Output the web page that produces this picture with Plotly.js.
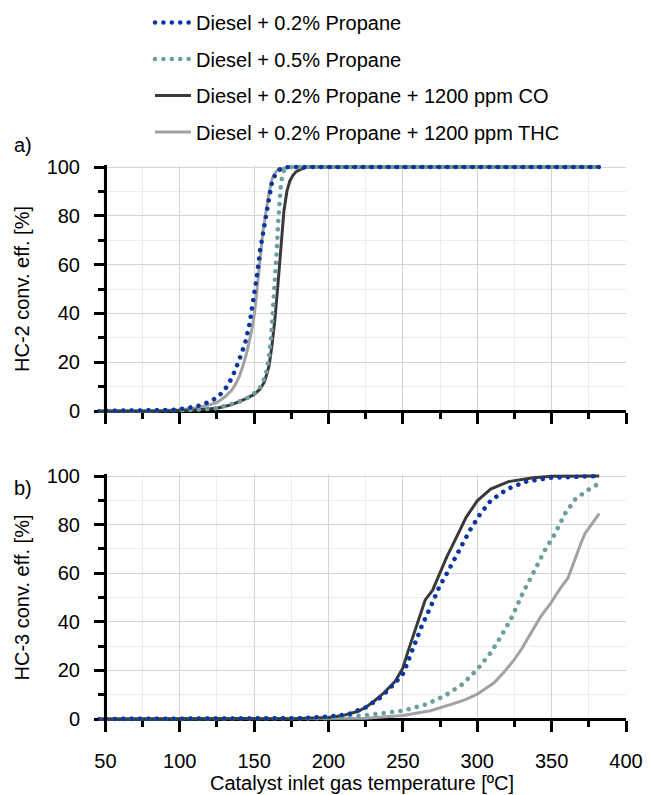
<!DOCTYPE html>
<html>
<head>
<meta charset="utf-8">
<script src="https://cdn.plot.ly/plotly-3.0.1.min.js"></script>
<style>html,body{margin:0;padding:0;background:#fff;}</style>
</head>
<body>
<div id="chart" style="width:651px;height:795px;"></div>
<script>
// Legend / series names
const seriesNames = [
  'Diesel + 0.2% Propane',
  'Diesel + 0.5% Propane',
  'Diesel + 0.2% Propane + 1200 ppm CO',
  'Diesel + 0.2% Propane + 1200 ppm THC'
];

// ---- Panel a) HC-2 conversion efficiency [%] ----
const hc2_p02_x = [45, 60, 80, 95, 105, 113, 120, 125, 130, 135, 140, 144, 147, 150, 152, 154, 156, 158, 160, 162, 164, 166, 168, 170, 175, 200, 250, 300, 350, 382];
const hc2_p02_y = [0, 0, 0.1, 0.4, 1.2, 2.2, 3.8, 5.5, 8.5, 13.5, 21, 28, 36, 47, 56, 66, 73, 82, 89, 94, 96.6, 98.5, 99.3, 99.8, 100, 100, 100, 100, 100, 100];

const hc2_p05_x = [45, 90, 110, 125, 135, 140, 145, 150, 153, 156, 158, 160, 161.5, 163, 164, 165, 166, 167, 168, 169, 170, 172, 175, 200, 300, 382];
const hc2_p05_y = [0, 0, 0.4, 1.1, 2.6, 3.8, 5.2, 7, 8.5, 12, 15.5, 22, 31, 45, 53, 64, 76, 86, 93, 96.6, 98.5, 99.7, 100, 100, 100, 100];

const hc2_co_x = [45, 90, 110, 125, 135, 140, 145, 150, 154, 157, 160, 162, 164, 166, 168, 170, 172, 174, 176, 178, 182, 186, 250, 382];
const hc2_co_y = [0, 0, 0.4, 1.1, 2.6, 3.8, 5.2, 6.8, 9, 12, 18.5, 27, 38, 52, 68, 82, 90, 94.3, 96.5, 98, 99.3, 100, 100, 100];

const hc2_thc_x = [45, 80, 100, 110, 120, 125, 130, 135, 137.5, 140, 142.5, 145, 148, 150, 152, 154, 156, 158, 160, 162, 164, 166, 170, 175, 250, 382];
const hc2_thc_y = [0, 0, 0.5, 1.2, 2.5, 3.5, 5.6, 8.6, 11, 14.2, 18.5, 24, 32, 39, 50, 62, 74, 82, 89.5, 95, 97.6, 98.8, 99.6, 100, 100, 100];

// ---- Panel b) HC-3 conversion efficiency [%] ----
const hc3_p02_x = [45, 150, 180, 200, 213.5, 225, 235, 245, 250.5, 256.5, 262.5, 268.5, 274.5, 280.5, 287.5, 295, 302, 309, 320, 333, 349.5, 365, 382];
const hc3_p02_y = [0, 0, 0.3, 1, 2, 4.8, 8.8, 15, 19, 28.6, 38, 46, 54.4, 61, 69.4, 77.6, 84.4, 89.8, 94.6, 97.7, 99.3, 99.8, 100];

const hc3_p05_x = [45, 150, 180, 200, 225, 250, 266, 278, 290, 300, 309, 316, 323.5, 330.5, 337.5, 345, 352, 359, 366, 373.5, 382];
const hc3_p05_y = [0, 0, 0.1, 0.3, 1.6, 3.4, 6.1, 9.5, 14.3, 20.4, 27.2, 34, 42.2, 51.7, 59.9, 69, 76, 84.5, 90.5, 93.9, 97];

const hc3_co_x = [45, 150, 180, 200, 210, 220, 225, 230, 237.5, 245, 250, 253, 259, 265, 270, 275.5, 279.5, 285, 292.5, 300, 309, 321, 337.5, 350, 382];
const hc3_co_y = [0, 0, 0.2, 0.6, 1.5, 3.2, 4.8, 7, 10.9, 15.6, 21, 27, 38, 49, 53, 61, 66.7, 73.5, 83, 89.8, 94.6, 97.7, 99.3, 99.9, 100];

const hc3_thc_x = [45, 200, 225, 250, 268.5, 283, 292, 300, 305, 311.5, 318, 325, 330, 335, 342.5, 349.5, 356.5, 361, 363, 366, 369.5, 372.5, 377, 382];
const hc3_thc_y = [0, 0, 0.3, 1.4, 3.4, 6.1, 8, 10.2, 12.2, 15, 19.3, 24.5, 29, 34, 42, 47.8, 54.4, 58, 61.5, 66.5, 72, 76.4, 80, 84.5];

// Tick labels
const xTickVals = [50, 100, 150, 200, 250, 300, 350, 400];
const yTickVals = [0, 20, 40, 60, 80, 100];
const yAxisCross = 50;   // vertical axis crosses the x axis at 50 ºC

const colors = ['#0a36a0', '#6a9f9f', '#3a3a3a', '#a2a2a2'];
const dotLine = (c) => ({color: c, width: 4.6, dash: '2px,6px'});
const solidLine = (c) => ({color: c, width: 3});

function mk(x, y, i, xa, ya, showLeg) {
  return {
    type: 'scatter', mode: 'lines', x: x, y: y,
    name: seriesNames[i], legendgroup: 'g' + i, legendrank: i + 1, showlegend: showLeg,
    xaxis: xa, yaxis: ya,
    line: i < 2 ? dotLine(colors[i]) : solidLine(colors[i]),
    hoverinfo: 'skip'
  };
}

// solid lines first so the dotted lines draw above them
const tracesA = [
  mk(hc2_thc_x, hc2_thc_y, 3, 'x', 'y', true),
  mk(hc2_co_x, hc2_co_y, 2, 'x', 'y', true),
  mk(hc2_p05_x, hc2_p05_y, 1, 'x', 'y', true),
  mk(hc2_p02_x, hc2_p02_y, 0, 'x', 'y', true),
];
const tracesB = [
  mk(hc3_thc_x, hc3_thc_y, 3, 'x2', 'y2', false),
  mk(hc3_co_x, hc3_co_y, 2, 'x2', 'y2', false),
  mk(hc3_p05_x, hc3_p05_y, 1, 'x2', 'y2', false),
  mk(hc3_p02_x, hc3_p02_y, 0, 'x2', 'y2', false),
];
// empty carriers so the label-only y axes get drawn
const labelCarriers = [
  {type: 'scatter', mode: 'lines', x: [null], y: [null], xaxis: 'x', yaxis: 'y3', showlegend: false, hoverinfo: 'skip'},
  {type: 'scatter', mode: 'lines', x: [null], y: [null], xaxis: 'x2', yaxis: 'y4', showlegend: false, hoverinfo: 'skip'}
];

const fontFam = '"Liberation Sans", Arial, sans-serif';

// geometry (px): left margin 80, plot width 546; x=45 at 98px, x=50 at ~105.4px
const ML = 80, MR = 25, W = 651 - ML - MR;
const xDom = [(98 - ML) / W, 1];
const yAxisPos = (105.4 - ML) / W;

const xCommon = {
  range: [45, 400], tickmode: 'array', tickvals: xTickVals, domain: xDom,
  ticks: 'outside', ticklen: 11, tickwidth: 3, tickcolor: '#000',
  showline: true, linecolor: '#000', linewidth: 3,
  showgrid: true, gridcolor: '#d4d4d4', gridwidth: 1,
  minor: {dtick: 25, tick0: 50, ticks: 'outside', ticklen: 6, tickwidth: 3, tickcolor: '#000', showgrid: true, gridcolor: '#ececec', gridwidth: 1},
  zeroline: false, layer: 'below traces', automargin: false,
  tickfont: {size: 20, color: '#000'}, ticklabelstandoff: 12
};
const yCommon = {
  range: [-1, 101], tickmode: 'array', tickvals: yTickVals,
  ticks: 'outside', ticklen: 10, tickwidth: 3, tickcolor: '#000',
  showline: true, linecolor: '#000', linewidth: 3,
  showgrid: true, gridcolor: '#d4d4d4', gridwidth: 1,
  minor: {dtick: 10, tick0: 0, ticks: 'outside', ticklen: 6, tickwidth: 3, tickcolor: '#000', showgrid: true, gridcolor: '#ececec', gridwidth: 1},
  zeroline: false, layer: 'below traces', automargin: false,
  showticklabels: false,
  anchor: 'free', position: yAxisPos
};
// label-only axes carrying the tick labels and titles, further left
const yLabel = {
  range: [-1, 101], tickmode: 'array', tickvals: yTickVals,
  ticks: '', showline: false, showgrid: false, zeroline: false,
  automargin: false, anchor: 'free', position: 0,
  tickfont: {size: 20, color: '#000'}
};

const axisLine = (xr, yr) => ({
  type: 'line', xref: xr, yref: yr, x0: yAxisCross, x1: yAxisCross, y0: -1.2, y1: 100.8,
  line: {color: '#000', width: 3}, layer: 'above'
});

const layout = {
  width: 651, height: 795,
  margin: {l: ML, r: MR, t: 0, b: 70},
  paper_bgcolor: '#fff', plot_bgcolor: '#fff',
  font: {family: fontFam, size: 20, color: '#000'},
  showlegend: true,
  legend: {
    x: (150 - ML) / W, xanchor: 'left', y: 0.9959, yanchor: 'top',
    bgcolor: 'rgba(0,0,0,0)', font: {size: 20, color: '#000'},
    tracegroupgap: 7.5, traceorder: 'grouped', itemwidth: 36
  },
  xaxis: Object.assign({}, xCommon, {anchor: 'free', position: 0.43310, showticklabels: false}),
  yaxis: Object.assign({}, yCommon, {domain: [0.42974, 0.77302]}),
  xaxis2: Object.assign({}, xCommon, {anchor: 'free', position: 0.00828, matches: 'x',
    title: {text: 'Catalyst inlet gas temperature [ºC]', font: {size: 20}, standoff: 4}}),
  yaxis2: Object.assign({}, yCommon, {domain: [0.00492, 0.34680]}),
  yaxis3: Object.assign({}, yLabel, {overlaying: 'y', title: {text: 'HC-2 conv. eff. [%]', font: {size: 20}, standoff: 10}}),
  yaxis4: Object.assign({}, yLabel, {overlaying: 'y2', title: {text: 'HC-3 conv. eff. [%]', font: {size: 20}, standoff: 10}}),
  shapes: [axisLine('x', 'y'), axisLine('x2', 'y2')],
  annotations: [
    {text: 'a)', xref: 'paper', yref: 'paper', x: (23 - ML) / W, y: 0.8, xanchor: 'center', yanchor: 'middle', showarrow: false, font: {size: 20}},
    {text: 'b)', xref: 'paper', yref: 'paper', x: (23 - ML) / W, y: 0.3269, xanchor: 'center', yanchor: 'middle', showarrow: false, font: {size: 20}}
  ]
};

Plotly.newPlot('chart', tracesA.concat(tracesB, labelCarriers), layout, {staticPlot: true, displayModeBar: false}).then(function () {
  // round dotted strokes like the original's round-dot line style
  document.querySelectorAll('#chart path.js-line').forEach(function (p) {
    var d = p.style.strokeDasharray;
    if (d && d !== 'none') {
      p.style.strokeDasharray = '0.01px 8.4px';
      p.style.strokeLinecap = 'round';
    }
  });
});
</script>
</body>
</html>
